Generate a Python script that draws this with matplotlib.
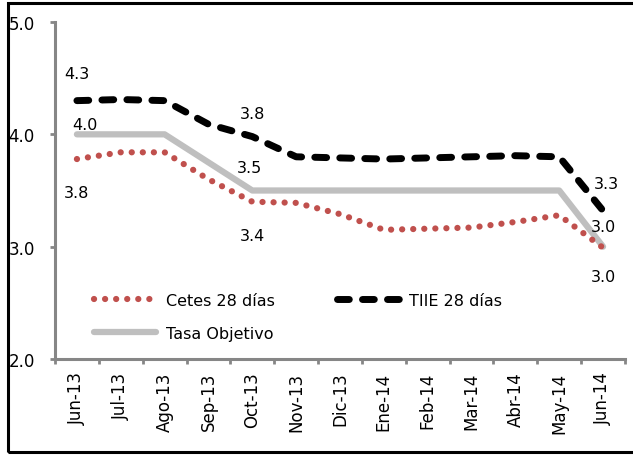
import matplotlib.pyplot as plt
from matplotlib.patches import Rectangle

# datos
meses = ['Jun-13', 'Jul-13', 'Ago-13', 'Sep-13', 'Oct-13', 'Nov-13', 'Dic-13',
         'Ene-14', 'Feb-14', 'Mar-14', 'Abr-14', 'May-14', 'Jun-14']
cetes = [3.78, 3.84, 3.84, 3.60, 3.40, 3.39, 3.29, 3.15, 3.16, 3.17, 3.22, 3.28, 2.99]
tiie = [4.30, 4.31, 4.30, 4.09, 3.98, 3.80, 3.79, 3.78, 3.79, 3.80, 3.81, 3.80, 3.32]
objetivo = [4.0, 4.0, 4.0, 3.75, 3.5, 3.5, 3.5, 3.5, 3.5, 3.5, 3.5, 3.5, 3.0]

plt.rcParams['font.family'] = ['DejaVu Sans']
plt.rcParams['font.size'] = 11.5

fig = plt.figure(figsize=(6.33, 4.56), dpi=100)
ax = fig.add_axes([55 / 633, 1 - 360 / 456, 570 / 633, 337 / 456])
x = list(range(len(meses)))

# lineas
ax.plot(x, objetivo, color='#BFBFBF', lw=4.5, solid_capstyle='round',
        solid_joinstyle='round', label='Tasa Objetivo', zorder=2)
ax.plot(x, cetes, color='#C0504D', lw=4.5, linestyle=(0, (0.01, 1.76)),
        dash_capstyle='round', label='Cetes 28 días', zorder=3)
ax.plot(x, tiie, color='black', lw=5, linestyle=(0, (1.7, 1.9)),
        dash_capstyle='round', label='TIIE 28 días', zorder=4)

# etiquetas de datos (texto como en el original)
etiquetas = [
    (0, tiie[0], '4.3', 0, 27), (0, objetivo[0], '4.0', 8, 10),
    (0, cetes[0], '3.8', 0, -33),
    (4, tiie[4], '3.8', 0, 23), (4, objetivo[4], '3.5', -3, 23),
    (4, cetes[4], '3.4', 0, -34),
    (12, tiie[12], '3.3', 3, 27), (12, objetivo[12], '3.0', 0, 20),
    (12, cetes[12], '3.0', 0, -29),
]
for i, v, txt, dx, dy in etiquetas:
    ax.annotate(txt, (i, v), xytext=(dx, dy), textcoords='offset pixels',
                ha='center', va='center', fontsize=11.5)

# ejes
ax.set_xlim(-0.5, 12.5)
ax.set_ylim(2.0, 5.0)
ax.set_yticks([2.0, 3.0, 4.0, 5.0])
ax.set_yticklabels(['2.0', '3.0', '4.0', '5.0'])
ax.set_xticks(x)
ax.set_xticklabels(meses, rotation=90, fontsize=12)
ax.set_xticks([i - 0.5 for i in range(len(meses) + 1)], minor=True)
ax.tick_params(axis='x', which='major', length=0, pad=9)
ax.tick_params(axis='x', which='minor', length=3.6, width=2, color='#868686')
ax.tick_params(axis='y', length=3.6, width=2, color='#868686', pad=11,
               labelsize=12)
for s in ['top', 'right']:
    ax.spines[s].set_visible(False)
for s in ['left', 'bottom']:
    ax.spines[s].set_color('#868686')
    ax.spines[s].set_linewidth(2.2)

# leyenda
h, l = ax.get_legend_handles_labels()
orden = [1, 0, 2]
ax.legend([h[k] for k in orden], [l[k] for k in orden], ncol=2, frameon=False,
          loc='upper left', bbox_to_anchor=(86 / 633, 1 - 286 / 456),
          bbox_transform=fig.transFigure, borderpad=0, handlelength=3.9,
          handletextpad=0.6, columnspacing=3.9, labelspacing=1.1,
          fontsize=11.5)

# marco
fig.patches.append(Rectangle((8 / 633, 1 - 453 / 456), 1.0, 449 / 456,
                             transform=fig.transFigure, fill=False,
                             edgecolor='black', linewidth=2.2))

fig.savefig('out.png', dpi=100)
